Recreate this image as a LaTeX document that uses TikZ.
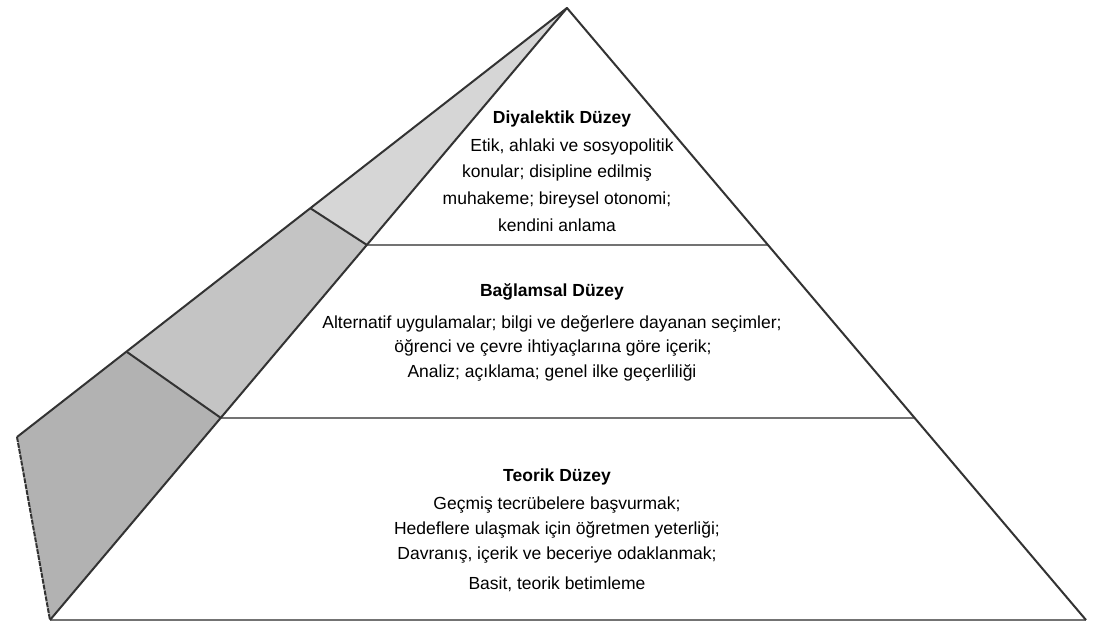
\documentclass[tikz,border=0pt]{standalone}
\usepackage{fontspec}
\setmainfont{Liberation Sans}
\begin{document}
\begin{tikzpicture}[x=1pt,y=-1pt,
  edge/.style={draw=black!80,line width=2pt,line join=round},
  level/.style={draw=black!55,line width=2.2pt},
  title/.style={font=\fontsize{17.5}{20}\selectfont\bfseries,inner sep=0pt,anchor=base},
  body/.style={font=\fontsize{17.5}{20}\selectfont,inner sep=0pt,anchor=base}]
\useasboundingbox[fill=white] (0,0) rectangle (1095,632);
% key points
\coordinate (A) at (567,8);
\coordinate (BL) at (50,620);
\coordinate (BR) at (1086,620);
\coordinate (L1) at (367,245);
\coordinate (R1) at (768,245);
\coordinate (L2) at (221,418);
\coordinate (R2) at (915,418);
\coordinate (S1) at (310,208);
\coordinate (S2) at (127,352);
\coordinate (S3) at (17,437);
% side faces
\fill[black!16] (A) -- (S1) -- (L1) -- cycle;
\fill[black!23] (S1) -- (S2) -- (L2) -- (L1) -- cycle;
\fill[black!30] (S2) -- (S3) -- (BL) -- (L2) -- cycle;
\draw[edge] (S1) -- (L1);
\draw[edge] (S2) -- (L2);
\draw[edge] (A) -- (S3);
\draw[edge,dash pattern=on 5pt off 1pt] (S3) -- (BL);
% levels
\draw[level] (L1) -- (R1);
\draw[level] (L2) -- (R2);
\draw[level] (BL) -- (BR);
% pyramid outline
\draw[edge] (BL) -- (A) -- (BR);
% texts
\node[title] (t1) at (562,123) {Diyalektik Düzey};
\node[body] (t1a) at (572,151) {Etik, ahlaki ve sosyopolitik};
\node[body] (t1b) at (557,177) {konular; disipline edilmiş};
\node[body] (t1c) at (557,204) {muhakeme; bireysel otonomi;};
\node[body] (t1d) at (557,231) {kendini anlama};
\node[title] (t2) at (552,296) {Bağlamsal Düzey};
\node[body] (t2a) at (552,328) {Alternatif uygulamalar; bilgi ve değerlere dayanan seçimler;};
\node[body] (t2b) at (553,352) {öğrenci ve çevre ihtiyaçlarına göre içerik;};
\node[body] (t2c) at (552,377) {Analiz; açıklama; genel ilke geçerliliği};
\node[title] (t3) at (557,481) {Teorik Düzey};
\node[body] (t3a) at (557,509) {Geçmiş tecrübelere başvurmak;};
\node[body] (t3b) at (557,534) {Hedeflere ulaşmak için öğretmen yeterliği;};
\node[body] (t3c) at (557,559) {Davranış, içerik ve beceriye odaklanmak;};
\node[body] (t3d) at (557,589) {Basit, teorik betimleme};
\end{tikzpicture}
\end{document}
